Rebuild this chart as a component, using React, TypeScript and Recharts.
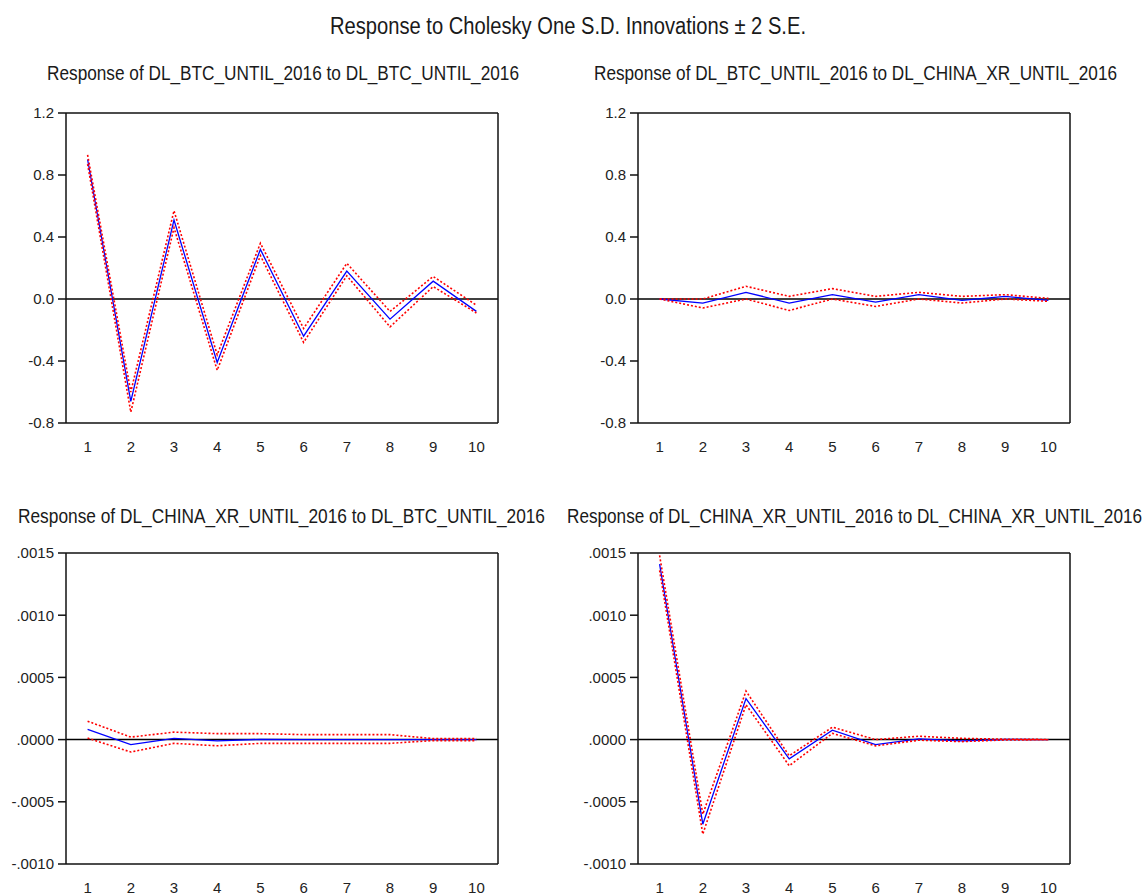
import { LineChart, Line, XAxis, YAxis, ReferenceLine } from "recharts";

// horizons of the impulse responses
const periods = [1, 2, 3, 4, 5, 6, 7, 8, 9, 10];
const bandEdges = [0.5, 1.5, 2.5, 3.5, 4.5, 5.5, 6.5, 7.5, 8.5, 9.5, 10.5];

const btcTicks = [-0.8, -0.4, 0, 0.4, 0.8, 1.2];
const xrTicks = [-0.001, -0.0005, 0, 0.0005, 0.001, 0.0015];

// response of DL_BTC to DL_BTC
const btcBtc = [0.9, -0.66, 0.51, -0.41, 0.32, -0.24, 0.18, -0.13, 0.115, -0.08];
const btcBtcUp = [0.93, -0.6, 0.57, -0.36, 0.36, -0.19, 0.23, -0.08, 0.145, -0.04];
const btcBtcLo = [0.87, -0.73, 0.46, -0.46, 0.28, -0.28, 0.15, -0.18, 0.08, -0.09];

// response of DL_BTC to DL_CHINA_XR
const btcXr = [0, -0.026, 0.043, -0.026, 0.028, -0.02, 0.028, -0.009, 0.017, -0.009];
const btcXrUp = [0, 0, 0.082, 0.017, 0.067, 0.017, 0.043, 0.017, 0.028, 0.004];
const btcXrLo = [0, -0.058, 0, -0.074, 0, -0.048, 0, -0.026, 0, -0.015];

// response of DL_CHINA_XR to DL_BTC
const xrBtc = [0.000083, -0.00004, 0.00001, -0.00001, 0.000002, 0, 0, 0, 0, 0];
const xrBtcUp = [0.000148, 0.00002, 0.00006, 0.000048, 0.000048, 0.00004, 0.00004, 0.00004, 0.000008, 0.000008];
const xrBtcLo = [0.000012, -0.0001, -0.00003, -0.00005, -0.00003, -0.00003, -0.00003, -0.00003, -0.000008, -0.000008];

// response of DL_CHINA_XR to DL_CHINA_XR
const xrXr = [0.00141, -0.00068, 0.00033, -0.000155, 0.000076, -0.00004, 0.000005, -0.00001, 0.000001, 0];
const xrXrUp = [0.00148, -0.0006, 0.00039, -0.00013, 0.0001, 0, 0.000027, 0.00001, 0.000003, 0.000001];
const xrXrLo = [0.00136, -0.00076, 0.00028, -0.00021, 0.00005, -0.00005, -0.000005, -0.000016, -0.000003, -0.000001];

type Row = { period: number; resp: number; upper: number; lower: number };

const toRows = (resp: number[], upper: number[], lower: number[]): Row[] =>
  periods.map((p, i) => ({ period: p, resp: resp[i], upper: upper[i], lower: lower[i] }));

const font = "'Liberation Sans Narrow', 'Arial Narrow', 'Liberation Sans', Arial, sans-serif";
const axisPen = { stroke: "#111", strokeWidth: 1.5 };
const tickFont = { fill: "#222", fontSize: 15, fontFamily: font };

const fmtBtc = (v: number) => v.toFixed(1);
const fmtXr = (v: number) => {
  const s = Math.abs(v).toFixed(4).replace(/^0/, "");
  return v < -1e-12 ? "-" + s : s;
};

type PanelProps = {
  left: number;
  top: number;
  height: number;
  bottom: number;
  data: Row[];
  domain: [number, number];
  yTicks: number[];
  fmt: (v: number) => string;
};

const Panel = ({ left, top, height, bottom, data, domain, yTicks, fmt }: PanelProps) => (
  <div style={{ position: "absolute", left, top }}>
    <LineChart
      width={520}
      height={height}
      data={data}
      margin={{ top: 22, right: 21, bottom, left: 16 }}
    >
      {/* tick marks sit on the band edges, labels under the band centres */}
      <XAxis
        xAxisId="a_marks"
        dataKey="period"
        type="number"
        domain={[0.5, 10.5]}
        ticks={bandEdges}
        interval={0}
        tick={false}
        tickSize={6}
        height={6}
        axisLine={axisPen}
        tickLine={axisPen}
      />
      <XAxis
        xAxisId="b_labels"
        dataKey="period"
        type="number"
        domain={[0.5, 10.5]}
        ticks={periods}
        interval={0}
        axisLine={false}
        tickLine={false}
        tickSize={0}
        tickMargin={12}
        height={24}
        tick={tickFont}
      />
      <XAxis
        xAxisId="c_frame"
        orientation="top"
        type="number"
        domain={[0.5, 10.5]}
        tick={false}
        tickLine={false}
        height={1}
        axisLine={axisPen}
      />
      <YAxis
        yAxisId="main"
        type="number"
        domain={domain}
        allowDataOverflow
        ticks={yTicks}
        interval={0}
        tickFormatter={fmt}
        tickSize={8}
        tickMargin={4}
        width={50}
        axisLine={axisPen}
        tickLine={axisPen}
        tick={tickFont}
      />
      <YAxis
        yAxisId="frame"
        orientation="right"
        type="number"
        domain={domain}
        tick={false}
        tickLine={false}
        width={1}
        axisLine={axisPen}
      />
      <ReferenceLine xAxisId="a_marks" yAxisId="main" y={0} stroke="#000" strokeWidth={1.5} />
      <Line
        xAxisId="a_marks"
        yAxisId="main"
        type="linear"
        dataKey="resp"
        stroke="#0000ff"
        strokeWidth={1.3}
        dot={false}
        isAnimationActive={false}
      />
      <Line
        xAxisId="a_marks"
        yAxisId="main"
        type="linear"
        dataKey="upper"
        stroke="#ff0000"
        strokeWidth={1.6}
        strokeDasharray="2 2"
        dot={false}
        isAnimationActive={false}
      />
      <Line
        xAxisId="a_marks"
        yAxisId="main"
        type="linear"
        dataKey="lower"
        stroke="#ff0000"
        strokeWidth={1.6}
        strokeDasharray="2 2"
        dot={false}
        isAnimationActive={false}
      />
    </LineChart>
  </div>
);

// condensed look of the original: squeeze to a fixed length, stretch a bit upward
const Title = ({ x, y, len, size, text }: { x: number; y: number; len: number; size: number; text: string }) => (
  <text
    transform={`translate(${x} ${y}) scale(1 1.15)`}
    fontSize={size}
    textLength={len}
    lengthAdjust="spacingAndGlyphs"
    style={{ fill: "#1a1a1a", fontFamily: font }}
  >
    {text}
  </text>
);

export default function App() {
  return (
    <div
      style={{
        position: "absolute",
        left: 0,
        top: 0,
        width: 1144,
        height: 895,
        background: "#fff",
        overflow: "hidden",
      }}
    >
      <Panel left={0} top={90} height={370} bottom={7} data={toRows(btcBtc, btcBtcUp, btcBtcLo)} domain={[-0.8, 1.2]} yTicks={btcTicks} fmt={fmtBtc} />
      <Panel left={572} top={90} height={370} bottom={7} data={toRows(btcXr, btcXrUp, btcXrLo)} domain={[-0.8, 1.2]} yTicks={btcTicks} fmt={fmtBtc} />
      <Panel left={0} top={530} height={365} bottom={1} data={toRows(xrBtc, xrBtcUp, xrBtcLo)} domain={[-0.001, 0.0015]} yTicks={xrTicks} fmt={fmtXr} />
      <Panel left={572} top={530} height={365} bottom={1} data={toRows(xrXr, xrXrUp, xrXrLo)} domain={[-0.001, 0.0015]} yTicks={xrTicks} fmt={fmtXr} />
      <svg
        width={1144}
        height={895}
        style={{ position: "absolute", left: 0, top: 0, pointerEvents: "none" }}
      >
        <Title x={330} y={34} len={476} size={20} text="Response to Cholesky One S.D. Innovations ± 2 S.E." />
        <Title x={47} y={80} len={472} size={17} text="Response of DL_BTC_UNTIL_2016 to DL_BTC_UNTIL_2016" />
        <Title x={594} y={80} len={523} size={17} text="Response of DL_BTC_UNTIL_2016 to DL_CHINA_XR_UNTIL_2016" />
        <Title x={18} y={523} len={527} size={17} text="Response of DL_CHINA_XR_UNTIL_2016 to DL_BTC_UNTIL_2016" />
        <Title x={567} y={523} len={575} size={17} text="Response of DL_CHINA_XR_UNTIL_2016 to DL_CHINA_XR_UNTIL_2016" />
      </svg>
    </div>
  );
}
